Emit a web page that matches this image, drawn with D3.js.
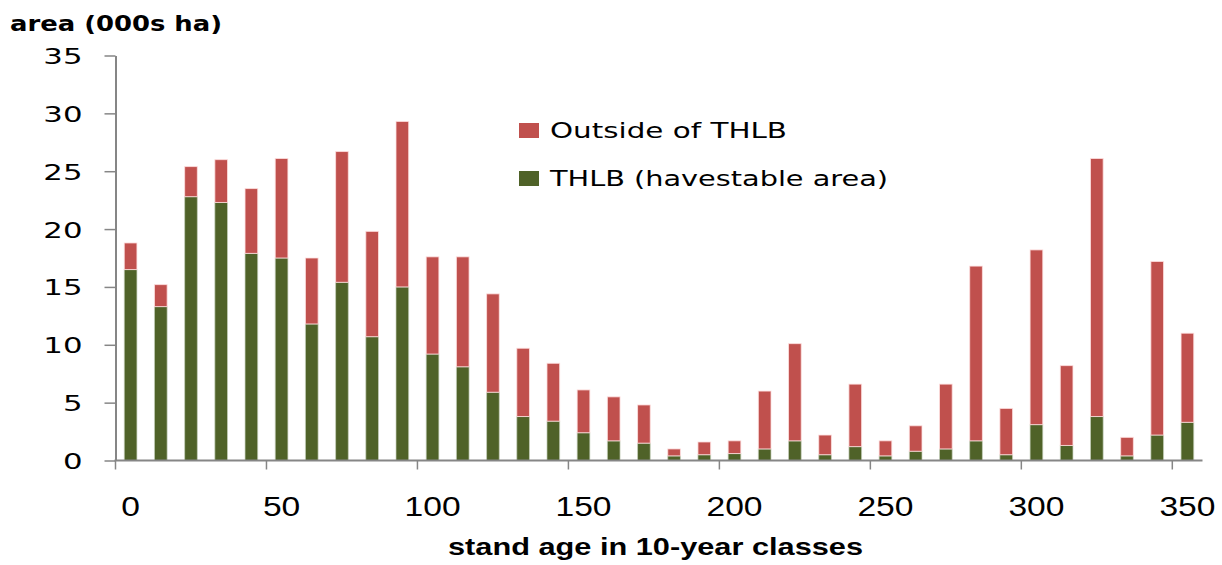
<!DOCTYPE html>
<html>
<head>
<meta charset="utf-8">
<script src="https://cdn.jsdelivr.net/npm/d3@7"></script>
<style>
  html, body { margin: 0; padding: 0; background: #fff; }
  svg { display: block; }
</style>
</head>
<body>
<svg id="chart" width="1222" height="565"></svg>
<script>
// ---- data ----
const ageClasses = [0,10,20,30,40,50,60,70,80,90,100,110,120,130,140,150,160,170,180,190,200,210,220,230,240,250,260,270,280,290,300,310,320,330,340,350];
const thlbArea = [16.5,13.3,22.8,22.3,17.9,17.5,11.8,15.4,10.7,15.0,9.2,8.1,5.9,3.8,3.4,2.4,1.7,1.5,0.4,0.5,0.6,1.0,1.7,0.5,1.2,0.4,0.8,1.0,1.7,0.5,3.1,1.3,3.8,0.4,2.2,3.3];
const outsideArea = [2.3,1.9,2.6,3.7,5.6,8.6,5.7,11.3,9.1,14.3,8.4,9.5,8.5,5.9,5.0,3.7,3.8,3.3,0.6,1.1,1.1,5.0,8.4,1.7,5.4,1.3,2.2,5.6,15.1,4.0,15.1,6.9,22.3,1.6,15.0,7.7];
const xTickLabels = [0,50,100,150,200,250,300,350];
const yTickValues = [0,5,10,15,20,25,30,35];
const seriesNames = ["THLB (havestable area)", "Outside of THLB"];
const seriesColors = ["#4F6228", "#C0504D"];

// ---- layout ----
const svg = d3.select("#chart");
const xLeft = 115.5, xRight = 1202.5, yBottom = 460.5, yTop = 55.5;
const axisColor = "#868686";

const x = d3.scaleBand().domain(ageClasses).range([xLeft, xRight])
  .paddingInner(0.58).paddingOuter(0.29);
const y = d3.scaleLinear().domain([0, 35]).range([yBottom, yTop]);

const table = ageClasses.map((a, i) => ({age: a, thlb: thlbArea[i], outside: outsideArea[i]}));
const stack = d3.stack().keys(["thlb", "outside"]);
const layers = stack(table);

// bars
svg.append("g").selectAll("g").data(layers).join("g")
  .attr("fill", (d, i) => seriesColors[i])
  .attr("stroke", (d, i) => i === 0 ? "rgba(200,210,190,0.7)" : "rgba(255,225,225,0.8)")
  .attr("stroke-width", 1)
  .selectAll("rect").data(d => d).join("rect")
  .attr("x", d => x(d.data.age))
  .attr("width", x.bandwidth())
  .attr("y", d => y(d[1]))
  .attr("height", d => y(d[0]) - y(d[1]));

// y axis
const yAxis = svg.append("g").attr("transform", `translate(${xLeft},0)`)
  .call(d3.axisLeft(y).tickValues(yTickValues).tickSize(11).tickSizeOuter(0).tickFormat(d3.format("d")));
yAxis.select(".domain").attr("stroke", axisColor).attr("stroke-width", 2);
yAxis.selectAll(".tick line").attr("stroke", axisColor).attr("stroke-width", 1.5);
yAxis.selectAll(".tick text").remove();
yAxis.selectAll(".tick").append("text")
  .attr("transform", "translate(-33,8) scale(1.4,1)")
  .attr("text-anchor", "end")
  .attr("fill", "#000")
  .style("font-family", "DejaVu Sans")
  .style("font-size", "22px")
  .text(d => d);

// x axis: baseline, boundary ticks every 5 classes, labels centred on the class
const step = x.step();
const gx = svg.append("g");
gx.append("line").attr("x1", xLeft - 1).attr("x2", xRight)
  .attr("y1", yBottom).attr("y2", yBottom)
  .attr("stroke", axisColor).attr("stroke-width", 2);
const xAxis = gx.append("g").attr("transform", `translate(0,${yBottom})`)
  .call(d3.axisBottom(x).tickValues(xTickLabels).tickSize(0).tickFormat(d => d));
xAxis.select(".domain").remove();
xAxis.selectAll(".tick line").remove();
xAxis.selectAll(".tick").append("line")
  .attr("x1", -x.bandwidth() / 2 - (step - x.bandwidth()) / 2)
  .attr("x2", -x.bandwidth() / 2 - (step - x.bandwidth()) / 2)
  .attr("y1", 0).attr("y2", 9)
  .attr("stroke", axisColor).attr("stroke-width", 1.5);
xAxis.selectAll(".tick text").remove();
xAxis.selectAll(".tick").append("text")
  .attr("transform", "translate(0,55) scale(1.2,1)")
  .attr("text-anchor", "middle")
  .attr("fill", "#000")
  .style("font-family", "Liberation Sans")
  .style("font-size", "28px")
  .text(d => d);
// final boundary tick at the right end
gx.append("line").attr("x1", xRight - step).attr("x2", xRight - step);

// titles
svg.append("text")
  .attr("x", 10).attr("y", 31)
  .attr("textLength", 212).attr("lengthAdjust", "spacingAndGlyphs")
  .style("font-family", "DejaVu Sans").style("font-weight", "bold").style("font-size", "21px")
  .attr("fill", "#000")
  .text("area (000s ha)");

svg.append("text")
  .attr("x", 448).attr("y", 555)
  .attr("textLength", 415).attr("lengthAdjust", "spacingAndGlyphs")
  .style("font-family", "Liberation Sans").style("font-weight", "bold").style("font-size", "24px")
  .attr("fill", "#000")
  .text("stand age in 10-year classes");

// legend
const legendItems = [
  {name: seriesNames[1], color: seriesColors[1], y: 123, w: 237},
  {name: seriesNames[0], color: seriesColors[0], y: 171, w: 338}
];
const lg = svg.append("g");
legendItems.forEach(it => {
  lg.append("rect").attr("x", 519).attr("y", it.y).attr("width", 20).attr("height", 15).attr("fill", it.color);
  lg.append("text").attr("x", 550).attr("y", it.y + 15)
    .attr("textLength", it.w).attr("lengthAdjust", "spacingAndGlyphs")
    .style("font-family", "DejaVu Sans").style("font-size", "21px")
    .attr("fill", "#000")
    .text(it.name);
});
</script>
</body>
</html>
